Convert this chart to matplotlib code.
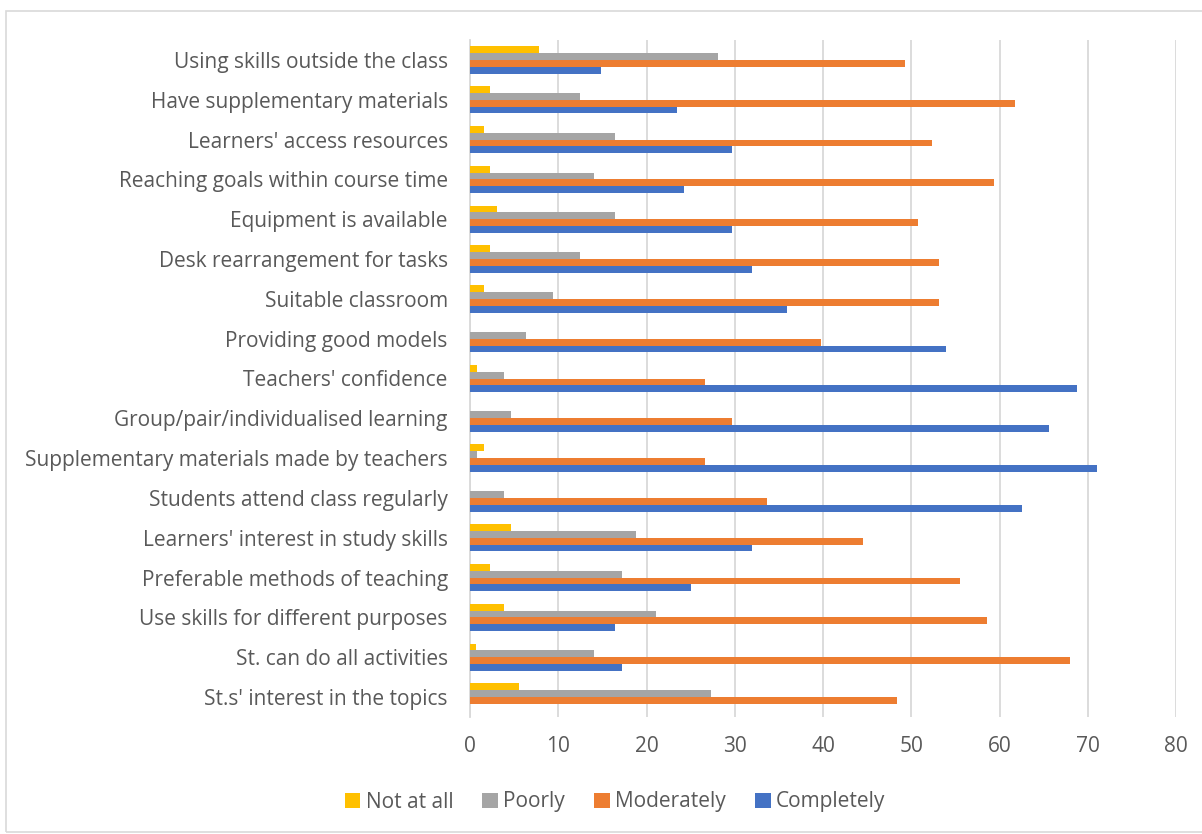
import numpy as np
import matplotlib.pyplot as plt
from matplotlib.patches import Rectangle

# Categories, listed from bottom to top of the chart
categories = [
    "St.s' interest in the topics",
    "St. can do all activities",
    "Use skills for different purposes",
    "Preferable methods of teaching",
    "Learners' interest in study skills",
    "Students attend class regularly",
    "Supplementary materials made by teachers",
    "Group/pair/individualised learning",
    "Teachers' confidence",
    "Providing good models",
    "Suitable classroom",
    "Desk rearrangement for tasks",
    "Equipment is available",
    "Reaching goals within course time",
    "Learners' access resources",
    "Have supplementary materials",
    "Using skills outside the class",
]

not_at_all = [5.5, 0.7, 3.9, 2.3, 4.7, 0, 1.6, 0, 0.8, 0, 1.6, 2.3, 3.1, 2.3, 1.6, 2.3, 7.8]
poorly = [27.3, 14.1, 21.1, 17.2, 18.8, 3.9, 0.8, 4.7, 3.9, 6.3, 9.4, 12.5, 16.4, 14.1, 16.4, 12.5, 28.1]
moderately = [48.4, 68.0, 58.6, 55.5, 44.5, 33.6, 26.6, 29.7, 26.6, 39.8, 53.1, 53.1, 50.8, 59.4, 52.3, 61.7, 49.3]
completely = [0, 17.2, 16.4, 25.0, 32.0, 62.5, 71.1, 65.6, 68.8, 53.9, 35.9, 32.0, 29.7, 24.2, 29.7, 23.4, 14.8]

series_names = ["Not at all", "Poorly", "Moderately", "Completely"]
colors = ["#FFC000", "#A5A5A5", "#ED7D31", "#4472C4"]

plt.rcParams['font.family'] = ['Open Sans', 'DejaVu Sans']
txt = "#595959"
fs = 15

fig = plt.figure(figsize=(12.02, 8.34), dpi=100)
fig.patch.set_facecolor('white')

# chart area border
fig.patches.append(Rectangle((6 / 1202, 0.002), 1.2, (834 - 11) / 834 - 0.002,
                             transform=fig.transFigure, fill=False,
                             edgecolor="#d9d9d9", linewidth=1.2))

ax = fig.add_axes([470 / 1202, (834 - 717) / 834, 706 / 1202, 677 / 834])

y = np.arange(len(categories))
h = 0.172
# top to bottom inside a group: Not at all, Poorly, Moderately, Completely
offsets = [1.5 * h, 0.5 * h, -0.5 * h, -1.5 * h]
data = [not_at_all, poorly, moderately, completely]
for vals, off, col, name in zip(data, offsets, colors, series_names):
    ax.barh(y + off, vals, height=h, color=col, label=name, zorder=3)

ax.set_xlim(0, 80)
ax.set_ylim(-0.5, len(categories) - 0.5)
ax.set_xticks(np.arange(0, 81, 10))
ax.set_yticks(y)
ax.set_yticklabels(categories)
ax.tick_params(axis='both', length=0, labelsize=fs, labelcolor=txt)
ax.tick_params(axis='x', pad=14)
ax.tick_params(axis='y', pad=16)

ax.grid(axis='x', color="#d9d9d9", linewidth=1.3, zorder=0)
for s in ['top', 'right', 'bottom']:
    ax.spines[s].set_visible(False)
ax.spines['left'].set_color("#d9d9d9")
ax.spines['left'].set_linewidth(1.3)

leg = fig.legend(loc='center', bbox_to_anchor=(615 / 1202, 1 - 802 / 834), ncol=4,
                 frameon=False, fontsize=fs, handlelength=0.75, handleheight=0.75,
                 handletextpad=0.25, columnspacing=1.4)
for t in leg.get_texts():
    t.set_color(txt)

fig.savefig("out.png", dpi=100, facecolor='white')
